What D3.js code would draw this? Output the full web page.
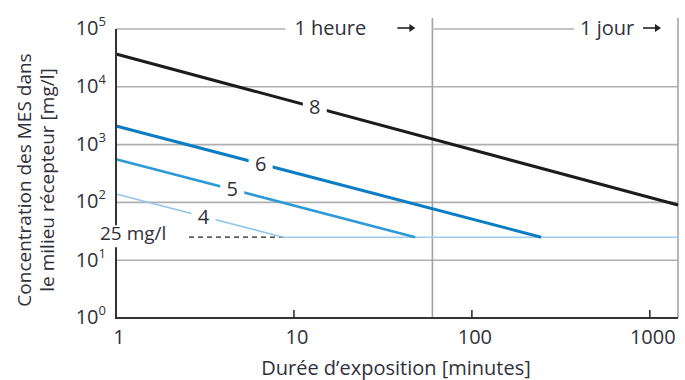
<!DOCTYPE html>
<html lang="fr">
<head>
<meta charset="UTF-8">
<title>Concentration des MES</title>
<style>
  body { margin: 0; background: #fff; }
  svg text { font-family: "Open Sans", Lato, sans-serif; fill: #30303a; }
</style>
</head>
<body>
<svg id="chart" width="685" height="380"></svg>
<script src="https://d3js.org/d3.v7.min.js"></script>
<script>
// durations in minutes, concentrations in mg/l
var seriesNames = ["8", "6", "5", "4"];
var seriesT = [[1, 1440], [1, 245], [1, 48], [1, 8.7]];
var seriesC = [[37000, 90], [2100, 25], [560, 25], [140, 25]];
var seriesColors = ["#1c1c1c", "#0b7dc3", "#2d9ad8", "#93c6ea"];
var seriesWidths = [3, 3, 2.6, 1.6];
var labelT = [13.1, 6.5, 4.5, 3.1];

var limitValue = 25;
var limitLabel = "25 mg/l";
var xTicks = [1, 10, 100, 1000];
var yExponents = [0, 1, 2, 3, 4, 5];
var hourMin = 60, dayMin = 1440;

var fs = 20;
var svg = d3.select("#chart");
var x = d3.scaleLog().domain([1, dayMin]).range([116, 678]);
var y = d3.scaleLog().domain([1, 1e5]).range([318, 29]);

// horizontal grid lines (top one is interrupted by the annotations)
var grid = svg.append("g");
grid.selectAll("line.h")
  .data(yExponents.slice(1, 5))
  .enter().append("line")
  .attr("x1", x(1)).attr("x2", x(dayMin))
  .attr("y1", function(d) { return y(Math.pow(10, d)); })
  .attr("y2", function(d) { return y(Math.pow(10, d)); })
  .attr("stroke", "#b0b0b0").attr("stroke-width", 1.6);

var topY = y(1e5);
var topSegs = [[x(1), x(hourMin) - 147], [x(hourMin) + 1, x(dayMin) - 104]];
grid.selectAll("line.top")
  .data(topSegs)
  .enter().append("line")
  .attr("x1", function(d) { return d[0]; }).attr("x2", function(d) { return d[1]; })
  .attr("y1", topY).attr("y2", topY)
  .attr("stroke", "#b0b0b0").attr("stroke-width", 1.6);

// vertical lines at 1 hour and 1 day
grid.selectAll("line.v")
  .data([hourMin, dayMin])
  .enter().append("line")
  .attr("x1", function(d) { return x(d); }).attr("x2", function(d) { return x(d); })
  .attr("y1", 18).attr("y2", y(1))
  .attr("stroke", "#a4a4a4").attr("stroke-width", 1.6);

// annotations
function arrow(x0) {
  svg.append("line").attr("x1", x0).attr("x2", x0 + 13)
    .attr("y1", topY - 1).attr("y2", topY - 1)
    .attr("stroke", "#222").attr("stroke-width", 1.6);
  svg.append("path")
    .attr("d", "M" + (x0 + 12) + "," + (topY - 5) + "L" + (x0 + 18) + "," + (topY - 1) + "L" + (x0 + 12) + "," + (topY + 3) + "Z")
    .attr("fill", "#222");
}
svg.append("text").attr("x", x(hourMin) - 138).attr("y", topY + 6)
  .attr("font-size", fs).text("1 heure");
arrow(x(hourMin) - 35);
svg.append("text").attr("x", x(dayMin) - 98).attr("y", topY + 6)
  .attr("font-size", fs).text("1 jour");
arrow(x(dayMin) - 35);

// limit line
svg.append("line")
  .attr("x1", x(seriesT[3][1])).attr("x2", x(dayMin))
  .attr("y1", y(limitValue)).attr("y2", y(limitValue))
  .attr("stroke", "#9fcdee").attr("stroke-width", 1.6);
svg.append("line")
  .attr("x1", 189).attr("x2", x(seriesT[3][1]))
  .attr("y1", y(limitValue)).attr("y2", y(limitValue))
  .attr("stroke", "#222").attr("stroke-width", 1.3)
  .attr("stroke-dasharray", "5,4");

// series lines
var lineGen = d3.line().x(function(d) { return x(d[0]); }).y(function(d) { return y(d[1]); });
seriesNames.forEach(function(name, i) {
  var pts = seriesT[i].map(function(t, j) { return [t, seriesC[i][j]]; });
  svg.append("path").attr("d", lineGen(pts))
    .attr("fill", "none").attr("stroke", seriesColors[i])
    .attr("stroke-width", seriesWidths[i]);
});

// series labels with white gap
seriesNames.forEach(function(name, i) {
  var t0 = seriesT[i][0], t1 = seriesT[i][1];
  var c0 = seriesC[i][0], c1 = seriesC[i][1];
  var f = Math.log(labelT[i] / t0) / Math.log(t1 / t0);
  var c = Math.exp(Math.log(c0) + f * (Math.log(c1) - Math.log(c0)));
  var lx = x(labelT[i]), ly = y(c);
  svg.append("rect").attr("x", lx - 12).attr("y", ly - 11)
    .attr("width", 24).attr("height", 22).attr("fill", "#fff");
  svg.append("text").attr("x", lx).attr("y", ly + 7)
    .attr("text-anchor", "middle").attr("font-size", fs).text(name);
});

// limit label with white background over the axis
svg.append("rect").attr("x", 100).attr("y", y(limitValue) - 12)
  .attr("width", 84).attr("height", 19).attr("fill", "#fff");

// axes
svg.append("line").attr("x1", x(1)).attr("x2", x(1))
  .attr("y1", y(1e5)).attr("y2", y(limitValue) - 12)
  .attr("stroke", "#333").attr("stroke-width", 2);
svg.append("line").attr("x1", x(1)).attr("x2", x(1))
  .attr("y1", y(limitValue) + 10).attr("y2", y(1) + 1)
  .attr("stroke", "#333").attr("stroke-width", 2);
svg.append("line").attr("x1", x(1) - 1).attr("x2", x(dayMin))
  .attr("y1", y(1)).attr("y2", y(1))
  .attr("stroke", "#333").attr("stroke-width", 2);

svg.selectAll("line.xt")
  .data(xTicks.slice(1))
  .enter().append("line")
  .attr("x1", function(d) { return x(d); }).attr("x2", function(d) { return x(d); })
  .attr("y1", y(1) - 8).attr("y2", y(1))
  .attr("stroke", "#333").attr("stroke-width", 1.6);

svg.selectAll("text.xt")
  .data(xTicks)
  .enter().append("text")
  .attr("x", function(d) { return x(d) + 3; })
  .attr("y", 344)
  .attr("text-anchor", "middle").attr("font-size", fs)
  .text(function(d) { return d; });

var yLab = svg.selectAll("text.yt")
  .data(yExponents)
  .enter().append("text")
  .attr("x", 106)
  .attr("y", function(d) { return y(Math.pow(10, d)) + 6 + (d === 1 ? 1 : 0); })
  .attr("text-anchor", "end").attr("font-size", fs);
yLab.append("tspan").text("10");
yLab.append("tspan").attr("dy", -9).attr("font-size", 13)
  .text(function(d) { return d; });

svg.append("text").attr("x", 100).attr("y", y(limitValue) + 3)
  .attr("font-size", fs - 1).text(limitLabel);

// axis titles
svg.append("text").attr("x", 396).attr("y", 375)
  .attr("text-anchor", "middle").attr("font-size", fs)
  .text("Durée d’exposition [minutes]");
var yTitle = svg.append("text")
  .attr("transform", "translate(0,180) rotate(-90)")
  .attr("text-anchor", "middle").attr("font-size", fs - 1);
yTitle.append("tspan").attr("x", 0).attr("y", 31).text("Concentration des MES dans");
yTitle.append("tspan").attr("x", 0).attr("y", 54).text("le milieu récepteur [mg/l]");
</script>
</body>
</html>
